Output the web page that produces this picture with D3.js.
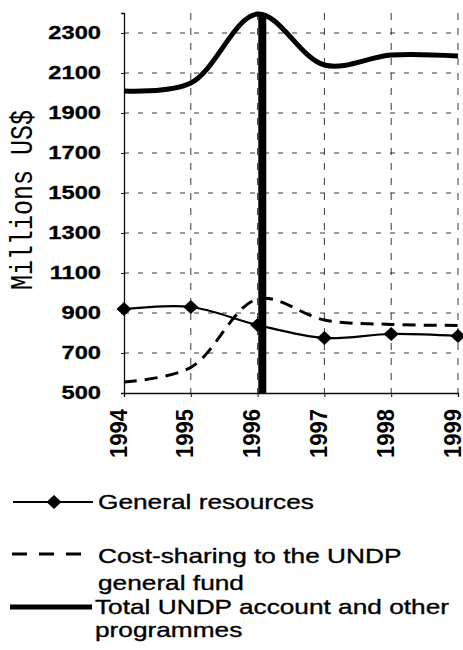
<!DOCTYPE html>
<html>
<head>
    <meta charset="utf-8">
    <title>UNDP resources 1994-1999</title>
    <script src="https://cdn.jsdelivr.net/npm/d3@7/dist/d3.min.js"></script>
    <style>
        body { margin: 0; background: #fff; }
        svg { display: block; }
    </style>
</head>
<body>
<svg id="chart"></svg>
<script>
    // data
    let years = [1994, 1995, 1996, 1997, 1998, 1999];
    let generalResources = [920, 930, 840, 775, 795, 785];
    let costSharing = [555, 628, 970, 865, 843, 838];
    let totalUndp = [2010, 2050, 2395, 2140, 2190, 2185];
    let yTicks = [500, 700, 900, 1100, 1300, 1500, 1700, 1900, 2100, 2300];
    let peakYear = 1996.07;   // the heavy drop rule sits a touch right of the 1996 grid line
    let legendLabels = [
        ["General resources"],
        ["Cost-sharing to the UNDP", "general fund"],
        ["Total UNDP account and other", "programmes"]
    ];

    let WIDTH = 463, HEIGHT = 650;
    let stretch = 1.28; // the scan is wider than it is tall, so the type is too

    let svg = d3.select("#chart").attr("width", WIDTH).attr("height", HEIGHT);

    let xScale = d3.scaleLinear().domain([1994, 1999]).range([124, 458]);
    let yScale = d3.scaleLinear().domain([500, 2400]).range([393, 13]);

    // grid
    let grid = svg.append("g");
    grid.selectAll(".hgrid")
        .data(yTicks.slice(1))
        .enter().append("line")
        .attr("x1", xScale(1994)).attr("x2", xScale(1999))
        .attr("y1", d => yScale(d)).attr("y2", d => yScale(d))
        .attr("stroke", "#222").attr("stroke-width", 0.9)
        .attr("stroke-dasharray", "5,9");
    grid.selectAll(".vgrid")
        .data(years.slice(1))
        .enter().append("line")
        .attr("x1", d => xScale(d)).attr("x2", d => xScale(d))
        .attr("y1", yScale(2400)).attr("y2", yScale(500))
        .attr("stroke", "#222").attr("stroke-width", 0.9)
        .attr("stroke-dasharray", "7,8");

    // axes
    svg.append("g")
        .attr("transform", "translate(" + xScale(1994) + ",0)")
        .call(d3.axisLeft(yScale).tickValues(yTicks).tickSize(3).tickFormat(""));
    svg.append("g")
        .attr("transform", "translate(0," + yScale(500) + ")")
        .call(d3.axisBottom(xScale).tickValues(years).tickSize(4).tickFormat(""));
    svg.selectAll(".domain").attr("stroke", "#111").attr("stroke-width", 1.3);
    svg.selectAll(".tick line").attr("stroke", "#111");

    // y tick labels
    svg.append("g").selectAll("text")
        .data(yTicks)
        .enter().append("text")
        .attr("transform", d => "translate(101," + yScale(d) + ") scale(" + stretch + ",1)")
        .attr("text-anchor", "end")
        .attr("dominant-baseline", "central")
        .style("font-family", "'Liberation Sans', Arial, sans-serif")
        .style("font-weight", "bold")
        .style("font-size", "18.5px")
        .attr("stroke", "#000").attr("stroke-width", 0.3)
        .text(d => d);

    // x tick labels, rotated
    svg.append("g").selectAll("text")
        .data(years)
        .enter().append("text")
        .attr("transform", d => "translate(" + (xScale(d) - 5) + ",409) scale(1.05,1) rotate(-90)")
        .attr("text-anchor", "end")
        .attr("dominant-baseline", "central")
        .style("font-family", "'Liberation Sans', Arial, sans-serif")
        .style("font-weight", "bold")
        .style("font-size", "22px")
        .text(d => d);

    // y axis title
    svg.append("text")
        .attr("transform", "translate(32,200) scale(" + stretch + ",1) rotate(-90)")
        .attr("text-anchor", "middle")
        .style("font-family", "'Liberation Mono', 'Courier New', monospace")
        .style("font-size", "25px")
        .text("Millions US$");

    let line = d3.line()
        .x(d => xScale(d[0]))
        .y(d => yScale(d[1]))
        .curve(d3.curveCatmullRom.alpha(0.5));
    let pairs = arr => years.map((y, i) => [y, arr[i]]);

    // heavy rule under the peak
    svg.append("line")
        .attr("x1", xScale(peakYear)).attr("x2", xScale(peakYear))
        .attr("y1", yScale(2400)).attr("y2", yScale(500))
        .attr("stroke", "#000").attr("stroke-width", 8);

    // total
    svg.append("path")
        .attr("d", line(pairs(totalUndp)))
        .attr("fill", "none").attr("stroke", "#000").attr("stroke-width", 5);

    // cost-sharing
    svg.append("path")
        .attr("d", line(pairs(costSharing)))
        .attr("fill", "none").attr("stroke", "#000").attr("stroke-width", 3)
        .attr("stroke-dasharray", "13,8");

    // general resources
    svg.append("path")
        .attr("d", line(pairs(generalResources)))
        .attr("fill", "none").attr("stroke", "#000").attr("stroke-width", 2.2);
    let diamond = "M0,-7L7.5,0L0,7L-7.5,0Z";
    svg.append("g").selectAll("path")
        .data(pairs(generalResources))
        .enter().append("path")
        .attr("transform", d => "translate(" + xScale(d[0]) + "," + yScale(d[1]) + ")")
        .attr("d", diamond)
        .attr("fill", "#000");

    // legend
    let legend = svg.append("g");
    let legendText = (lines, x, baselines) => {
        lines.forEach((t, i) => {
            legend.append("text")
                .attr("transform", "translate(" + x + "," + baselines[i] + ") scale(1.25,1)")
                .style("font-family", "'Liberation Sans', Arial, sans-serif")
                .style("font-size", "21px")
                .attr("stroke", "#000").attr("stroke-width", 0.35)
                .text(t);
        });
    };

    legend.append("line").attr("x1", 13).attr("x2", 93).attr("y1", 502).attr("y2", 502)
        .attr("stroke", "#000").attr("stroke-width", 2.2);
    legend.append("path").attr("transform", "translate(54,502)").attr("d", diamond).attr("fill", "#000");
    legendText(legendLabels[0], 98, [509]);

    legend.append("line").attr("x1", 12).attr("x2", 84).attr("y1", 554).attr("y2", 554)
        .attr("stroke", "#000").attr("stroke-width", 3).attr("stroke-dasharray", "15,12");
    legendText(legendLabels[1], 98, [563, 590]);

    legend.append("line").attr("x1", 10).attr("x2", 92).attr("y1", 607).attr("y2", 607)
        .attr("stroke", "#000").attr("stroke-width", 5);
    legendText(legendLabels[2], 95, [614, 637]);
</script>
</body>
</html>
